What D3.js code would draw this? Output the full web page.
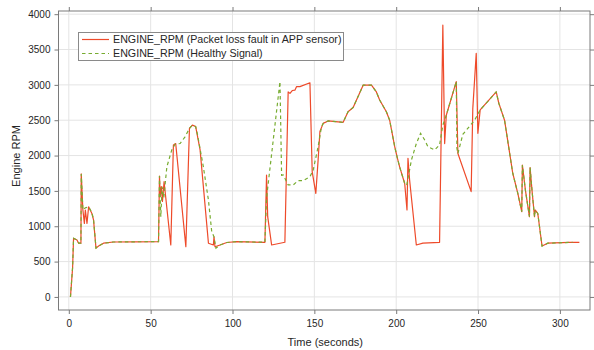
<!DOCTYPE html>
<html>
<head>
<meta charset="utf-8">
<script src="https://cdn.jsdelivr.net/npm/d3@7"></script>
<style>
  html, body { margin: 0; padding: 0; background: #fff; }
  svg { display: block; font-family: "Liberation Sans", Arial, sans-serif; }
</style>
</head>
<body>
<svg id="chart" width="594" height="350"></svg>
<script>
// Engine speed recorded with the APP-sensor packet-loss fault, [time s, rpm]
const faultRpm = [
  [1,0],[2.3,405],[2.9,830],[5,805],[6,760],[7.4,760],[7.6,1740],[8.6,1230],[9.5,1040],
  [10.1,1230],[11.1,1040],[12.1,1275],[14.1,1180],[15.1,1090],[16.6,690],[18.2,720],
  [21.2,760],[27.3,777],[40,780],[54.8,782],[55.4,1710],[55.8,1420],[56.5,1560],
  [57.2,1350],[58.2,1630],[62.3,735],[63.9,2150],[65.3,2170],[71.5,710],[73.7,2385],
  [75.5,2430],[77.5,2410],[80.2,2080],[85.3,760],[88.3,735],[88.7,850],[89.3,710],
  [92.4,735],[96.5,770],[102.6,782],[119.8,773],[120.8,1725],[121.5,1135],[123.9,735],
  [132,773],[134,2900],[135.1,2880],[136.5,2920],[138.1,2925],[139.1,2975],[141.2,2975],
  [147.3,3030],[148.7,1770],[150.9,1465],[152.3,1935],[153.4,2340],[155.4,2455],
  [158.4,2490],[167.6,2470],[170.6,2620],[173.7,2680],[179.8,2995],[184.9,2995],
  [187.9,2900],[189.9,2785],[194,2620],[196,2500],[199.1,2125],[200.5,1985],[202.1,1840],
  [205.2,1605],[206.6,1230],[207.2,1960],[208.2,1655],[212.3,735],[216.3,760],[226.5,773],
  [228.5,3845],[229.6,2170],[230.6,2570],[236.7,3045],[237.7,2030],[245.8,1490],
  [246.8,2665],[248.9,3445],[249.9,2315],[251.3,2645],[261.1,2900],[262.7,2740],
  [266.2,2500],[271.2,1750],[274.3,1465],[276.7,1205],[277.1,1865],[279,1500],[281.4,1135],
  [281.8,1830],[283,1500],[284.5,1135],[284.9,1230],[286.5,1180],[289.1,720],[292.6,760],
  [305.8,773],[311.9,773]
];

// Engine speed with a healthy APP signal, [time s, rpm]
const healthyRpm = [
  [1,0],[2.3,420],[2.9,830],[5,805],[6,760],[7.4,760],[7.6,1740],[8.6,1230],[10.1,1260],
  [12.1,1275],[14.1,1190],[15.1,1100],[16.6,690],[18.2,720],[21.2,760],[27.3,777],[40,780],
  [54.8,782],[55.4,1710],[56.2,1135],[57,1560],[58,1400],[59.9,1840],[62.9,2080],
  [64.9,2160],[68,2170],[71,2265],[73.7,2385],[75.5,2430],[77.5,2410],[78.5,2310],
  [82.2,1840],[85.3,1370],[87.3,925],[88.7,850],[89.9,690],[92.4,735],[96.5,770],
  [102.6,782],[119.8,773],[120.8,1400],[129,3045],[130,1720],[131,1725],[134,1585],
  [137.1,1585],[140.1,1645],[143.1,1645],[147.3,1700],[149.3,1795],[152.3,2125],
  [154.4,2410],[155.4,2455],[158.4,2490],[167.6,2470],[170.6,2620],[173.7,2680],
  [179.8,2995],[184.9,2995],[187.9,2900],[189.9,2785],[194,2620],[196,2500],[199.1,2125],
  [200.5,1985],[202.1,1840],[205.2,1605],[206.4,1580],[209.3,1935],[212.3,2170],
  [214.9,2315],[217.4,2220],[219.4,2125],[223.5,2080],[226.5,2150],[228.5,2430],
  [230.6,2570],[236.7,3045],[237.1,2100],[237.7,2030],[240.7,2300],[247.9,2500],
  [251.3,2645],[261.1,2900],[262.7,2740],[266.2,2500],[271.2,1750],[274.3,1465],
  [276.7,1205],[277.1,1865],[279,1500],[281.4,1135],[281.8,1830],[283,1500],[284.5,1135],
  [284.9,1230],[286.5,1180],[289.1,720],[292.6,760],[307.8,773]
];

const xTicks = [0, 50, 100, 150, 200, 250, 300];
const yTicks = [0, 500, 1000, 1500, 2000, 2500, 3000, 3500, 4000];
const seriesNames = [
  "ENGINE_RPM (Packet loss fault in APP sensor)",
  "ENGINE_RPM (Healthy Signal)"
];

const svg = d3.select("#chart");
const m = { left: 58.5, right: 590, top: 11, bottom: 310 };

const x = d3.scaleLinear().domain([-6.3, 318.4]).range([m.left, m.right]);
const y = d3.scaleLinear().domain([-185, 4045]).range([m.bottom, m.top]);

const axisColor = "#7a7a7a";
const textColor = "#262626";
const fmt = d3.format("d");

// grid
const grid = svg.append("g");
grid.selectAll(".gx").data(xTicks).join("line")
  .attr("x1", d => x(d)).attr("x2", d => x(d))
  .attr("y1", m.top).attr("y2", m.bottom)
  .attr("stroke", "#e4e4e4").attr("stroke-width", 1);
grid.selectAll(".gy").data(yTicks).join("line")
  .attr("x1", m.left).attr("x2", m.right)
  .attr("y1", d => y(d)).attr("y2", d => y(d))
  .attr("stroke", "#e4e4e4").attr("stroke-width", 1);

// series
const line = d3.line().x(d => x(d[0])).y(d => y(d[1]));
const plot = svg.append("g");
plot.append("path").datum(faultRpm)
  .attr("d", line).attr("fill", "none")
  .attr("stroke", "#ee4a2a").attr("stroke-width", 1.2)
  .attr("stroke-linejoin", "round");
plot.append("path").datum(healthyRpm)
  .attr("d", line).attr("fill", "none")
  .attr("stroke", "#77ac30").attr("stroke-width", 1.2)
  .attr("stroke-dasharray", "3.5,3");

// axes: ticks point outward on all four sides
function styleAxis(g) {
  g.select(".domain").remove();
  g.selectAll(".tick line").attr("stroke", axisColor);
  g.selectAll(".tick text").attr("fill", textColor).style("font-size", "10px")
    .style("font-family", "'Liberation Sans', Arial, sans-serif");
}
svg.append("g").attr("transform", `translate(0,${m.bottom})`)
  .call(d3.axisBottom(x).tickValues(xTicks).tickFormat(fmt).tickSize(4).tickPadding(6))
  .call(styleAxis);
svg.append("g").attr("transform", `translate(0,${m.top})`)
  .call(d3.axisTop(x).tickValues(xTicks).tickSize(4).tickFormat(""))
  .call(styleAxis);
svg.append("g").attr("transform", `translate(${m.left},0)`)
  .call(d3.axisLeft(y).tickValues(yTicks).tickFormat(fmt).tickSize(4).tickPadding(4))
  .call(styleAxis);
svg.append("g").attr("transform", `translate(${m.right},0)`)
  .call(d3.axisRight(y).tickValues(yTicks).tickSize(4).tickFormat(""))
  .call(styleAxis);

// plot box
svg.append("rect")
  .attr("x", m.left).attr("y", m.top)
  .attr("width", m.right - m.left).attr("height", m.bottom - m.top)
  .attr("fill", "none").attr("stroke", axisColor).attr("stroke-width", 1);

// axis titles
svg.append("text")
  .attr("x", (m.left + m.right) / 2 + 1).attr("y", 346)
  .attr("text-anchor", "middle").attr("fill", textColor)
  .style("font-size", "11px").text("Time (seconds)");
svg.append("text")
  .attr("transform", "translate(20,156) rotate(-90)")
  .attr("text-anchor", "middle").attr("fill", textColor)
  .style("font-size", "11px").text("Engine RPM");

// legend
const lg = svg.append("g");
lg.append("rect").attr("x", 78.5).attr("y", 32.5).attr("width", 265).attr("height", 28)
  .attr("fill", "#fff").attr("stroke", "#8a8a8a").attr("stroke-width", 1);
const legendStyles = [
  { color: "#ee4a2a", dash: null },
  { color: "#77ac30", dash: "3.5,3" }
];
seriesNames.forEach((name, i) => {
  const ly = 39.5 + i * 14;
  lg.append("line").attr("x1", 82).attr("x2", 109).attr("y1", ly).attr("y2", ly)
    .attr("stroke", legendStyles[i].color).attr("stroke-width", 1.2)
    .attr("stroke-dasharray", legendStyles[i].dash);
  lg.append("text").attr("x", 113).attr("y", ly + 3.8)
    .attr("fill", textColor).style("font-size", "10.7px").text(name);
});
</script>
</body>
</html>
